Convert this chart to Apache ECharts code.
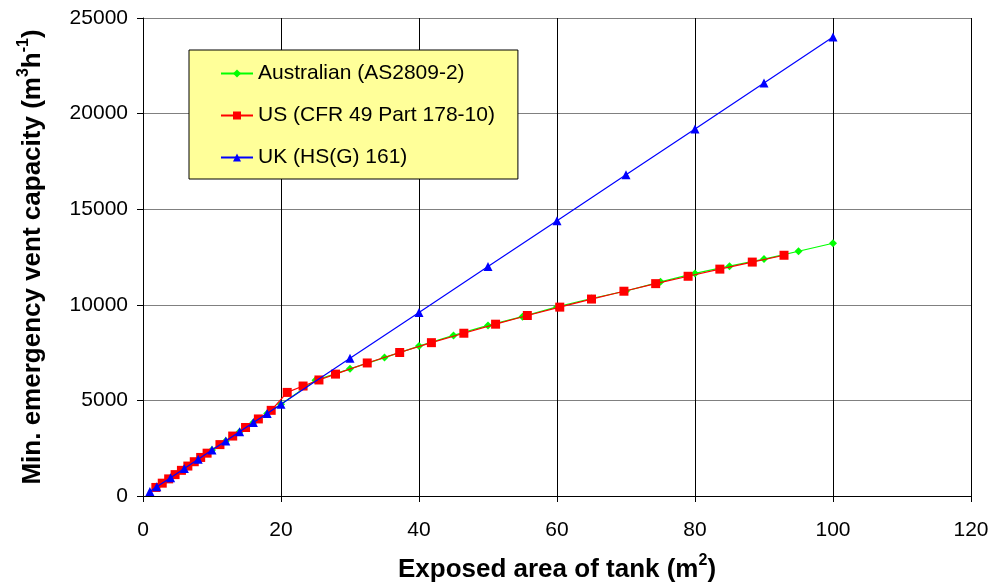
<!DOCTYPE html>
<html>
<head>
<meta charset="utf-8">
<script src="https://cdn.jsdelivr.net/npm/echarts@6/dist/echarts.min.js"></script>
<style>
html,body{margin:0;padding:0;background:#fff;}
#chart{width:997px;height:588px;}
</style>
</head>
<body>
<div id="chart"></div>
<script>
// ---- Data ----
const seriesNames = ['Australian (AS2809-2)', 'US (CFR 49 Part 178-10)', 'UK (HS(G) 161)'];

const ausArea = [2, 4, 6, 8, 10, 12, 14, 16, 18, 20, 25, 30, 35, 40, 45, 50, 55, 60, 65, 70, 75, 80, 85, 90, 95, 100];
const ausCap  = [480, 960, 1440, 1920, 2400, 2880, 3360, 3840, 4320, 4800, 6050, 6650, 7240, 7840, 8400, 8920, 9380, 9890, 10330, 10720, 11200, 11640, 12020, 12390, 12800, 13220];

const usArea = [1.86, 2.79, 3.72, 4.65, 5.57, 6.5, 7.43, 8.36, 9.29, 11.15, 13.0, 14.86, 16.72, 18.58, 20.9, 23.2, 25.5, 27.9, 32.5, 37.2, 41.8, 46.5, 51.1, 55.7, 60.4, 65.0, 69.7, 74.3, 79.0, 83.6, 88.3, 92.9];
const usCap  = [447, 671, 895, 1119, 1342, 1566, 1793, 2016, 2240, 2688, 3135, 3582, 4030, 4480, 5418, 5752, 6069, 6375, 6958, 7505, 8020, 8513, 8986, 9439, 9878, 10300, 10710, 11107, 11492, 11866, 12234, 12591];

const ukArea = [1, 2, 4, 6, 8, 10, 12, 14, 16, 18, 20, 30, 40, 50, 60, 70, 80, 90, 100];
const ukCap  = [240, 480, 960, 1440, 1920, 2400, 2880, 3360, 3840, 4320, 4800, 7200, 9600, 12000, 14400, 16800, 19200, 21600, 24000];

const xTicks = { min: 0, max: 120, interval: 20 };
const yTicks = { min: 0, max: 25000, interval: 5000 };

// ---- Chart ----
const FONT = '"Liberation Sans", Arial, sans-serif';
const pair = (xs, ys) => xs.map((x, i) => [x, ys[i]]);
const titleRich = {
  t: { fontFamily: FONT, fontSize: 26, fontWeight: 'bold', color: '#000', lineHeight: 30, verticalAlign: 'bottom' },
  s: { fontFamily: FONT, fontSize: 16, fontWeight: 'bold', color: '#000', lineHeight: 16, verticalAlign: 'top' }
};

const chart = echarts.init(document.getElementById('chart'), null, { renderer: 'canvas' });
chart.setOption({
  animation: false,
  backgroundColor: '#ffffff',
  textStyle: { fontFamily: FONT },
  grid: { left: 143, right: 26, top: 18, bottom: 91, containLabel: false },
  legend: {
    orient: 'vertical',
    left: 189,
    top: 50,
    padding: [13, 23, 11, 31],
    itemWidth: 32,
    itemHeight: 10,
    itemGap: 21,
    backgroundColor: '#ffff99',
    borderColor: '#000000',
    borderWidth: 1,
    textStyle: { fontFamily: FONT, fontSize: 21, lineHeight: 20, color: '#000' },
    data: seriesNames
  },
  xAxis: {
    type: 'value',
    min: xTicks.min, max: xTicks.max, interval: xTicks.interval,
    name: '{t|Exposed area of tank (m}{s|2}{t|)}',
    nameLocation: 'middle',
    nameGap: 57,
    nameTextStyle: { rich: titleRich },
    axisLine: { show: true, lineStyle: { color: '#000', width: 1 } },
    axisTick: { show: true, inside: false, length: 6, lineStyle: { color: '#000' } },
    axisLabel: { fontFamily: FONT, fontSize: 21, color: '#000', margin: 24, formatter: v => String(v) },
    splitLine: { show: true, lineStyle: { color: '#000', width: 1 } }
  },
  yAxis: {
    type: 'value',
    min: yTicks.min, max: yTicks.max, interval: yTicks.interval,
    name: '{t|Min. emergency vent capacity (m}{s|3}{t|h}{s|-1}{t|)}',
    nameLocation: 'middle',
    nameRotate: 90,
    nameGap: 97,
    nameTextStyle: { rich: titleRich },
    axisLine: { show: true, lineStyle: { color: '#000', width: 1 } },
    axisTick: { show: true, inside: false, length: 6, lineStyle: { color: '#000' } },
    axisLabel: { fontFamily: FONT, fontSize: 21, color: '#000', margin: 15, formatter: v => String(v) },
    splitLine: { show: true, lineStyle: { color: '#808080', width: 1 } }
  },
  series: [
    {
      name: seriesNames[0], type: 'line', data: pair(ausArea, ausCap),
      symbol: 'diamond', symbolSize: 8, showAllSymbol: true,
      lineStyle: { color: '#00ff00', width: 1.2 },
      itemStyle: { color: '#00ff00' }, z: 2
    },
    {
      name: seriesNames[1], type: 'line', data: pair(usArea, usCap),
      symbol: 'rect', symbolSize: 9, showAllSymbol: true,
      lineStyle: { color: '#ff0000', width: 1.2 },
      itemStyle: { color: '#ff0000' }, z: 3
    },
    {
      name: seriesNames[2], type: 'line', data: pair(ukArea, ukCap),
      symbol: 'triangle', symbolSize: 9, showAllSymbol: true,
      lineStyle: { color: '#0000ff', width: 1.2 },
      itemStyle: { color: '#0000ff' }, z: 4
    }
  ]
});
</script>
</body>
</html>
